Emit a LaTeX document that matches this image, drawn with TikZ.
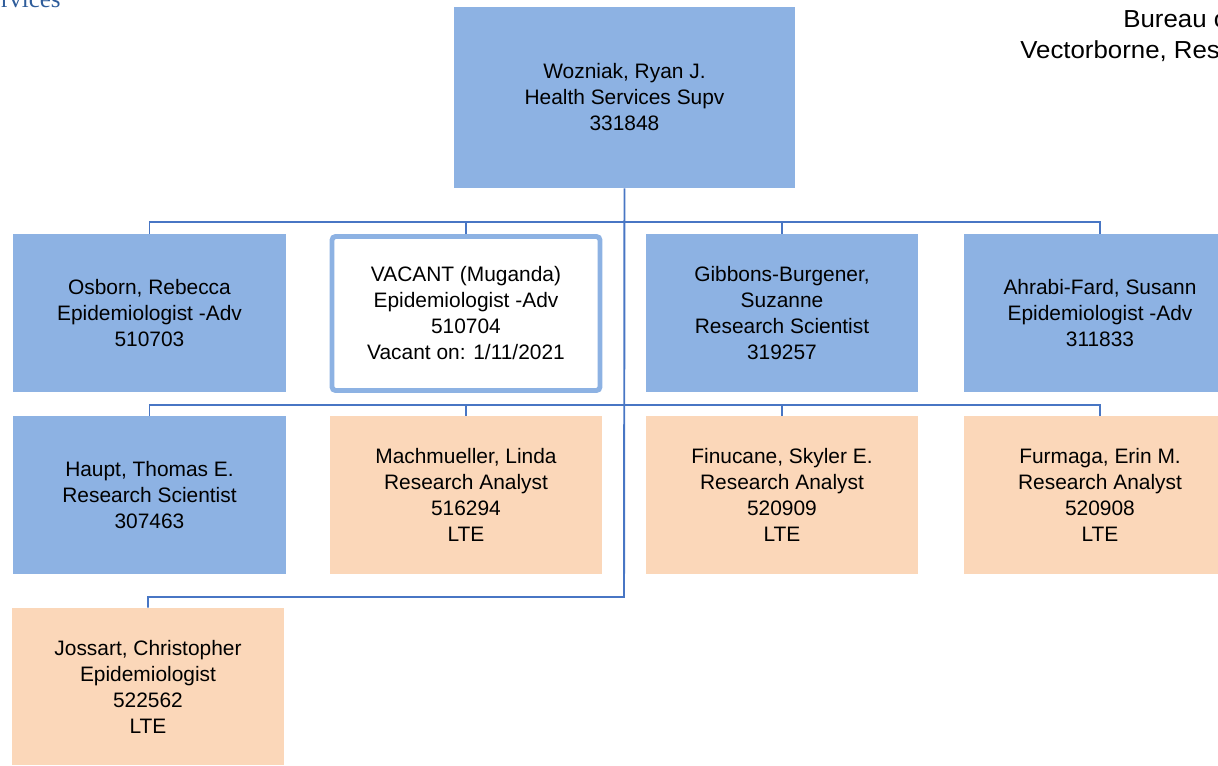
\documentclass[tikz,border=0pt]{standalone}
\usepackage{fontspec}
\setmainfont{Liberation Sans}
\newfontfamily\deptfont{Liberation Serif}
\newfontfamily\bureaufont[FakeStretch=1.05]{Liberation Sans}
\definecolor{staffblue}{RGB}{141,178,227}
\definecolor{ltepeach}{RGB}{251,215,185}
\definecolor{linkblue}{RGB}{72,118,196}
\definecolor{deptblue}{RGB}{46,92,154}
\begin{document}
\begin{tikzpicture}[x=0.02cm,y=-0.02cm,
  every node/.style={font=\fontsize{11.9}{14.8}\selectfont, align=center, inner sep=0pt},
  staff/.style={fill=staffblue, minimum width=5.46cm, minimum height=3.16cm},
  lte/.style={fill=ltepeach, minimum width=5.46cm, minimum height=3.16cm},
  vacant/.style={draw=staffblue, line width=2.8pt, rounded corners=2pt, fill=white, minimum width=5.36cm, minimum height=3.08cm},
  header/.style={font=\bureaufont\fontsize{14}{16}\selectfont, anchor=base west},
  link/.style={draw=linkblue, line width=1.1pt}]
\useasboundingbox (0,0) rectangle (1218,765);
\node[font=\deptfont\fontsize{14.2}{16}\selectfont, text=deptblue, anchor=base east] (dept) at (61,7.5) {rvices};
\node[header] (bureau) at (1123,27.3) {Bureau o};
\node[header] (unit) at (1020,58.3) {Vectorborne, Res};
\node[staff, minimum width=6.82cm, minimum height=3.62cm] (boss) at (624.5,97.5) {Wozniak, Ryan J.\\Health Services Supv\\331848};
\node[staff] (osborn) at (149.5,313) {Osborn, Rebecca\\Epidemiologist -Adv\\510703};
\node[vacant] (vacant) at (466,313.5) {VACANT (Muganda)\\Epidemiologist -Adv\\510704\\Vacant on: 1/11/2021};
\node[staff] (gibbons) at (782,313) {Gibbons-Burgener,\\Suzanne\\Research Scientist\\319257};
\node[staff] (ahrabi) at (1100,313) {Ahrabi-Fard, Susann\\Epidemiologist -Adv\\311833};
\node[staff] (haupt) at (149.5,495) {Haupt, Thomas E.\\Research Scientist\\307463};
\node[lte] (machmueller) at (466,495) {Machmueller, Linda\\Research Analyst\\516294\\LTE};
\node[lte] (finucane) at (782,495) {Finucane, Skyler E.\\Research Analyst\\520909\\LTE};
\node[lte] (furmaga) at (1100,495) {Furmaga, Erin M.\\Research Analyst\\520908\\LTE};
\node[lte, minimum width=5.44cm, minimum height=3.14cm] (jossart) at (148,686.5) {Jossart, Christopher\\Epidemiologist\\522562\\LTE};
\coordinate (bus1) at (624,222);
\coordinate (bus2) at (624,405);
\coordinate (bus3) at (624,597);
\draw[link] (boss.south) -- (bus3) -| (jossart.north);
\draw[link] (osborn.north) |- (bus1) -| (ahrabi.north);
\draw[link] (vacant.north) -- (vacant.north |- bus1);
\draw[link] (gibbons.north) -- (gibbons.north |- bus1);
\draw[link] (haupt.north) |- (bus2) -| (furmaga.north);
\draw[link] (machmueller.north) -- (machmueller.north |- bus2);
\draw[link] (finucane.north) -- (finucane.north |- bus2);
\end{tikzpicture}
\end{document}
